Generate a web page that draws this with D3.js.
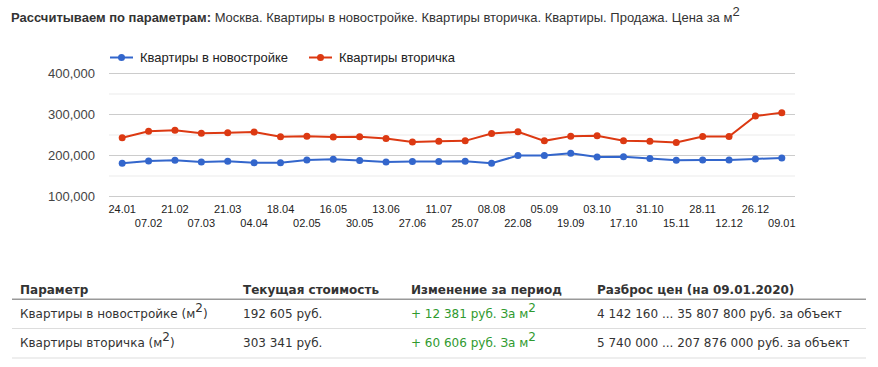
<!DOCTYPE html>
<html>
<head>
<meta charset="utf-8">
<title>Цена за м2</title>
<script src="https://cdnjs.cloudflare.com/ajax/libs/d3/7.8.5/d3.min.js"></script>
<style>
  body{margin:0;background:#fff;}
  svg{display:block;}
  .title{font:13px Arial, "Liberation Sans", sans-serif;fill:#333;}
  .legend text{font:13px Arial, "Liberation Sans", sans-serif;fill:#222;}
  .yaxis text{font:13px Arial, "Liberation Sans", sans-serif;fill:#444;}
  .xaxis text{font:11px Arial, "Liberation Sans", sans-serif;fill:#222;}
  .tbl text{font:12px "DejaVu Sans", Verdana, sans-serif;fill:#333;}
  .tbl .head{font-weight:bold;}
  .tbl .green{fill:#2f9a2f;}
</style>
</head>
<body>
<div id="chart"></div>
<script>
var dates = ["24.01","07.02","21.02","07.03","21.03","04.04","18.04","02.05","16.05","30.05","13.06","27.06","11.07",
             "25.07","08.08","22.08","05.09","19.09","03.10","17.10","31.10","15.11","28.11","12.12","26.12","09.01"];
var newBuild = [180000,185600,187000,183000,185000,181000,181000,188000,189600,186500,183000,184000,184000,
                184700,180000,198500,198500,204200,195300,196000,191300,187300,188000,188000,190500,192605];
var secondary = [242000,258000,260600,253000,254000,255800,244300,246000,243600,244300,240400,232000,233800,
                 234500,252400,256500,234500,246000,246700,234500,233800,230400,245300,245300,295000,303341];
var seriesNames = ["Квартиры в новостройке","Квартиры вторичка"];
var seriesColors = ["#3366cc","#dc3912"];
var yTicks = [100000,200000,300000,400000];
var yMinor = [150000,250000,350000];

var tableHead = ["Параметр","Текущая стоимость","Изменение за период","Разброс цен (на 09.01.2020)"];
var tableParams = ["Квартиры в новостройке (м","Квартиры вторичка (м"];
var tableCurrent = ["192 605 руб.","303 341 руб."];
var tableChange = ["+ 12 381 руб. За м","+ 60 606 руб. За м"];
var tableRange = ["4 142 160 ... 35 807 800 руб. за объект","5 740 000 ... 207 876 000 руб. за объект"];

var width = 878, height = 367;
var plot = {left:109, right:795, top:73, bottom:196};

var svg = d3.select("#chart").append("svg")
  .attr("width",width).attr("height",height);

// title
var title = svg.append("text").attr("class","title").attr("x",11).attr("y",22);
title.append("tspan").attr("font-weight","bold").text("Рассчитываем по параметрам:");
title.append("tspan").text(" Москва. Квартиры в новостройке. Квартиры вторичка. Квартиры. Продажа. Цена за м");
title.append("tspan").attr("dy",-6).text("2");

var x = d3.scalePoint().domain(dates).range([plot.left,plot.right]).padding(0.5);
var y = d3.scaleLinear().domain([100000,400000]).range([plot.bottom,plot.top]);

// gridlines
svg.append("g").selectAll("line").data(yMinor).enter().append("line")
  .attr("x1",plot.left).attr("x2",plot.right)
  .attr("y1",function(d){return y(d)+0.5;}).attr("y2",function(d){return y(d)+0.5;})
  .attr("stroke","#ebebeb");
svg.append("g").selectAll("line").data(yTicks).enter().append("line")
  .attr("x1",plot.left).attr("x2",plot.right)
  .attr("y1",function(d){return y(d)+0.5;}).attr("y2",function(d){return y(d)+0.5;})
  .attr("stroke","#cccccc");

// y axis labels
var yAxis = d3.axisLeft(y).tickValues(yTicks).tickSize(0).tickPadding(14)
  .tickFormat(d3.format(","));
svg.append("g").attr("class","yaxis")
  .attr("transform","translate("+plot.left+",0)")
  .call(yAxis)
  .call(function(g){g.select(".domain").remove();});

// x axis labels, two rows
var xg = svg.append("g").attr("class","xaxis");
xg.selectAll("text").data(dates).enter().append("text")
  .attr("x",function(d){return x(d);})
  .attr("y",function(d,i){return i%2===0 ? 213 : 227;})
  .attr("text-anchor","middle")
  .text(function(d){return d;});

// lines + points
var line = d3.line()
  .x(function(d,i){return x(dates[i]);})
  .y(function(d){return y(d);});
[newBuild,secondary].forEach(function(vals,k){
  svg.append("path").datum(vals)
    .attr("d",line).attr("fill","none")
    .attr("stroke",seriesColors[k]).attr("stroke-width",2);
  svg.append("g").selectAll("circle").data(vals).enter().append("circle")
    .attr("cx",function(d,i){return x(dates[i]);})
    .attr("cy",function(d){return y(d);})
    .attr("r",3.5)
    .attr("fill",seriesColors[k]);
});

// legend
var legendX = [110,309];
var legend = svg.append("g").attr("class","legend").selectAll("g")
  .data(seriesNames).enter().append("g")
  .attr("transform",function(d,i){return "translate("+legendX[i]+",57.5)";});
legend.append("line").attr("x1",0).attr("x2",23)
  .attr("stroke",function(d,i){return seriesColors[i];}).attr("stroke-width",2);
legend.append("circle").attr("cx",11.5).attr("r",3.5)
  .attr("fill",function(d,i){return seriesColors[i];});
legend.append("text").attr("x",30).attr("y",4.5).text(function(d){return d;});

// table
var colX = [20,243,411,597];
var tbl = svg.append("g").attr("class","tbl");
tbl.selectAll("text.head").data(tableHead).enter().append("text")
  .attr("class","head").attr("x",function(d,i){return colX[i];}).attr("y",294)
  .text(function(d){return d;});
tbl.append("rect").attr("x",12).attr("y",298.5).attr("width",854).attr("height",1.5).attr("fill","#999");

var rowY = [318,347];
var sepY = [328,357.5];
tableParams.forEach(function(p,r){
  var t = tbl.append("text").attr("x",colX[0]).attr("y",rowY[r]);
  t.append("tspan").text(p);
  t.append("tspan").attr("dy",-6).text("2");
  t.append("tspan").attr("dy",6).text(")");
  tbl.append("text").attr("x",colX[1]).attr("y",rowY[r]).text(tableCurrent[r]);
  var c = tbl.append("text").attr("class","green").attr("x",colX[2]).attr("y",rowY[r]);
  c.append("tspan").text(tableChange[r]);
  c.append("tspan").attr("dy",-6).text("2");
  tbl.append("text").attr("x",colX[3]).attr("y",rowY[r]).text(tableRange[r]);
  tbl.append("rect").attr("x",12).attr("y",sepY[r]).attr("width",854).attr("height",1).attr("fill","#dddddd");
});
</script>
</body>
</html>
